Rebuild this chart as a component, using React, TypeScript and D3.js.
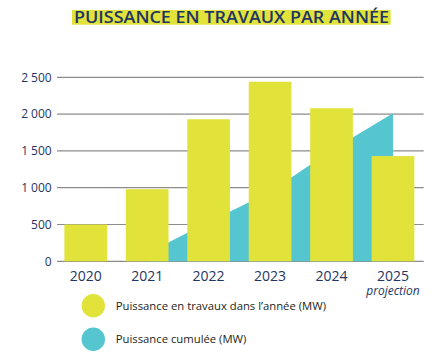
import React from "react";
import * as d3 from "d3";

const years = ["2020", "2021", "2022", "2023", "2024", "2025"];
const annualMW = [500, 980, 1930, 2440, 2080, 1430];
const cumulYears = ["2021", "2022", "2023", "2024", "2025"];
const cumulMW = [110, 535, 940, 1510, 2010];
const yTicks = [0, 500, 1000, 1500, 2000, 2500];
const titleText = "PUISSANCE EN TRAVAUX PAR ANNÉE";
const legendLabels = ["Puissance en travaux dans l’année (MW)", "Puissance cumulée (MW)"];

const YELLOW = "#e1e33b";
const TEAL = "#55c5cf";
const NAVY = "#1f3564";

export default function App() {
  const W = 439, H = 355;
  const x = d3.scaleBand<string>().domain(years).range([55, 423.7]).paddingInner(0.305).paddingOuter(0.1525);
  const y = d3.scaleLinear().domain([0, 2500]).range([261.3, 77.3]);
  const fmt = (v: number) => (v >= 1000 ? `${Math.floor(v / 1000)} ${String(v % 1000).padStart(3, "0")}` : String(v));
  const area = d3
    .area<number>()
    .x((_, i) => (x(cumulYears[i]) as number) + x.bandwidth() / 2)
    .y0(y(0))
    .y1((d) => y(d));
  return (
    <svg width={W} height={H} style={{ position: "absolute", left: 0, top: 0 }}>
      <rect width={W} height={H} fill="#fff" />
      <rect x={72} y={10} width={318.7} height={14.7} fill={YELLOW} />
      <text x={74} y={22.6} fontFamily="Open Sans, sans-serif" fontWeight={600} fontSize={16.5} fill={NAVY} textLength={315} lengthAdjust="spacingAndGlyphs">
        {titleText}
      </text>
      {yTicks.map((t) => (
        <g key={t}>
          <line x1={57} x2={423.7} y1={y(t)} y2={y(t)} stroke="#8c8c8c" strokeWidth={1.2} />
          <text x={51.7} y={y(t) + 4.3} textAnchor="end" fontFamily="Open Sans, sans-serif" fontSize={12} fill={NAVY}>
            {fmt(t)}
          </text>
        </g>
      ))}
      <path d={area(cumulMW) || ""} fill={TEAL} />
      {years.map((yr, i) => (
        <rect key={yr} x={x(yr)} y={y(annualMW[i])} width={x.bandwidth()} height={y(0) - y(annualMW[i])} fill={YELLOW} />
      ))}
      {years.map((yr) => (
        <text key={yr} x={(x(yr) as number) + x.bandwidth() / 2} y={281.3} textAnchor="middle" fontFamily="Open Sans, sans-serif" fontSize={14} fill={NAVY}>
          {yr}
        </text>
      ))}
      <text x={(x("2025") as number) + x.bandwidth() / 2} y={294.5} textAnchor="middle" fontFamily="Open Sans, sans-serif" fontStyle="italic" fontSize={12} fill={NAVY}>
        projection
      </text>
      {legendLabels.map((l, i) => (
        <g key={l}>
          <circle cx={93.3} cy={305.7 + i * 33.6} r={11.7} fill={i === 0 ? YELLOW : TEAL} />
          <text x={115.7} y={309.6 + i * 33.6} fontFamily="Open Sans, sans-serif" fontSize={11.3} fill="#231f20">
            {l}
          </text>
        </g>
      ))}
    </svg>
  );
}
